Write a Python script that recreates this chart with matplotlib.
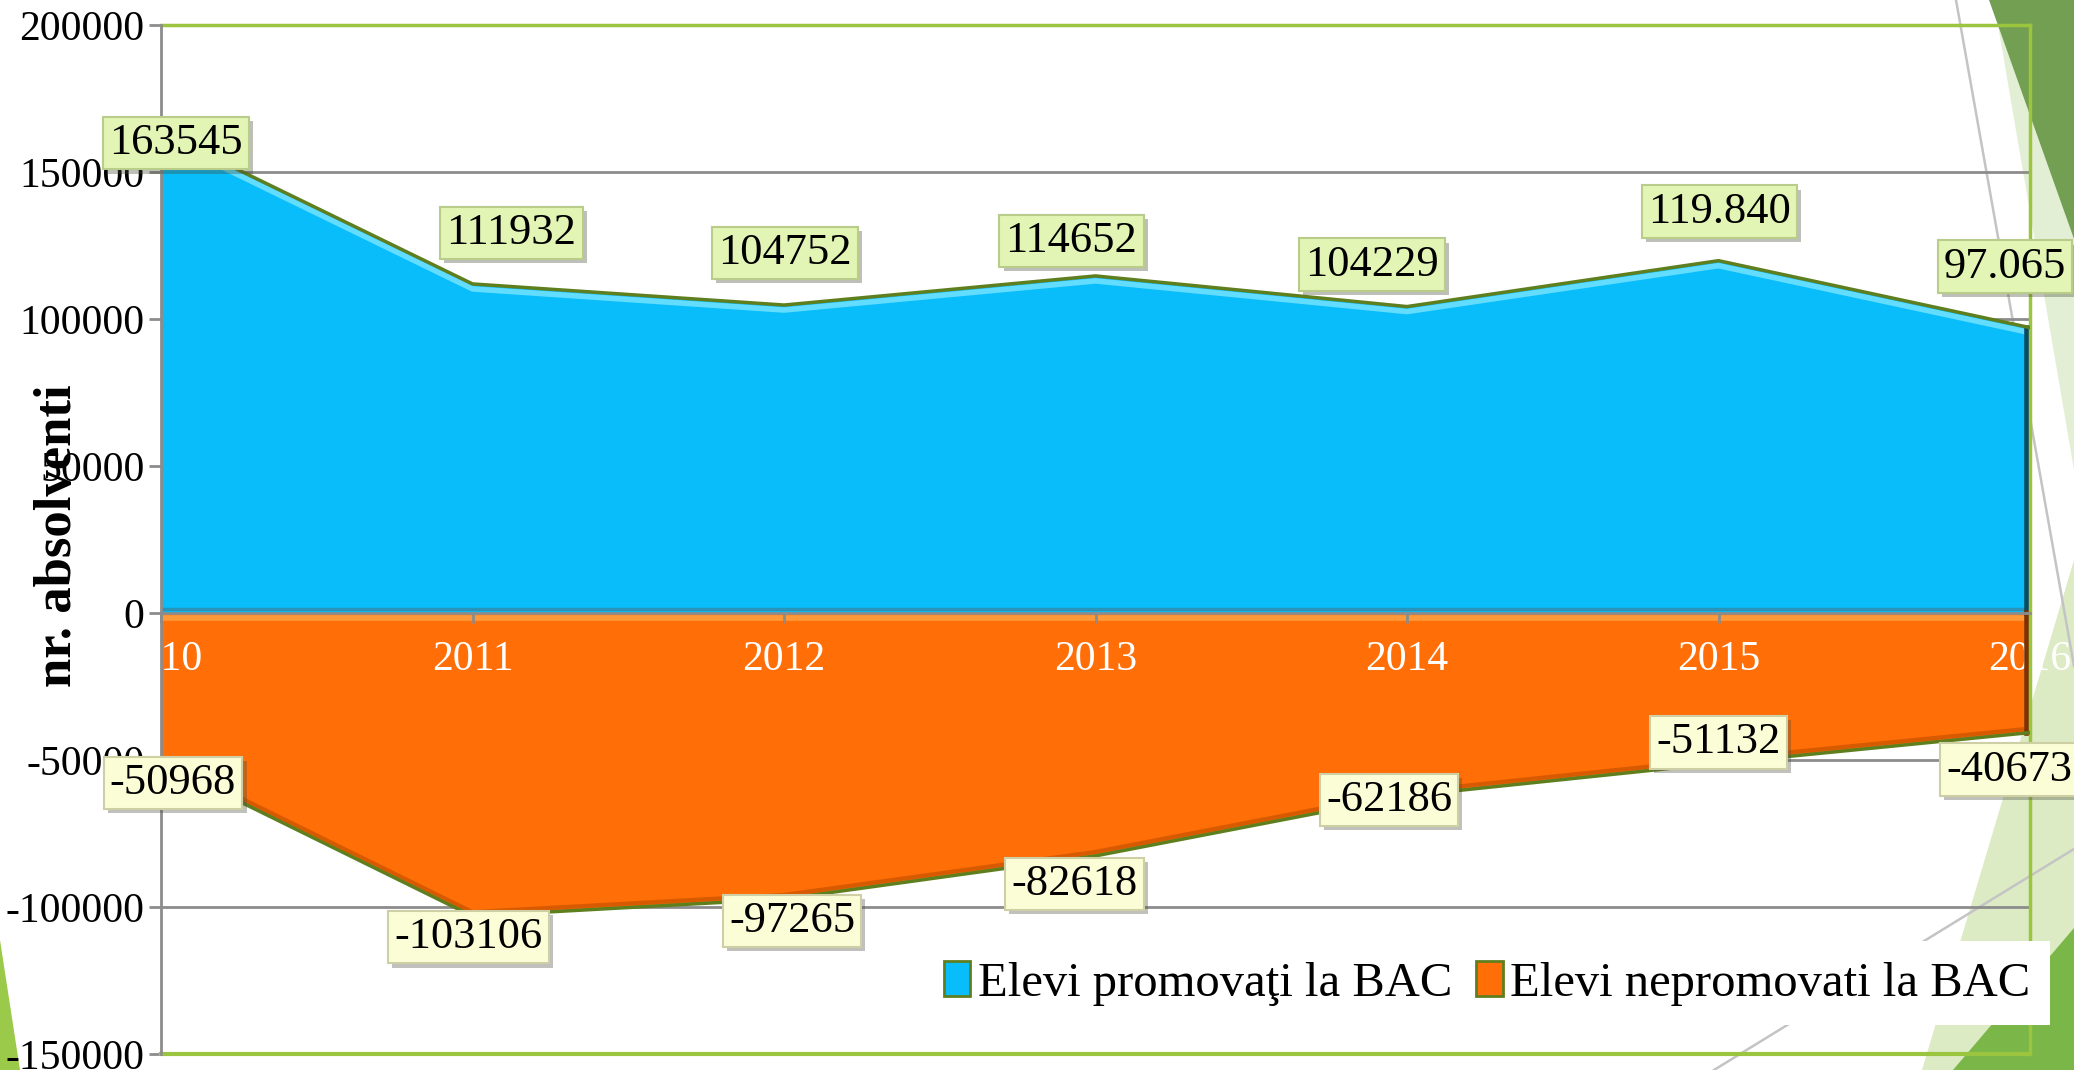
import matplotlib
matplotlib.use("Agg")
import matplotlib.pyplot as plt
from matplotlib.patches import Polygon, Patch
from matplotlib.lines import Line2D
from matplotlib.transforms import offset_copy
import matplotlib.patheffects as pe

plt.rcParams['font.family'] = ['Liberation Serif', 'DejaVu Serif']

# data
years = [2010, 2011, 2012, 2013, 2014, 2015, 2016]
promovati = [163545, 111932, 104752, 114652, 104229, 119840, 97065]
nepromovati = [-50968, -103106, -97265, -82618, -62186, -51132, -40673]
lbl_prom = ['163545', '111932', '104752', '114652', '104229', '119.840', '97.065']
lbl_neprom = ['-50968', '-103106', '-97265', '-82618', '-62186', '-51132', '-40673']
yticks = [-150000, -100000, -50000, 0, 50000, 100000, 150000, 200000]
legend_names = ['Elevi promovaţi la BAC', 'Elevi nepromovati la BAC']

# label offsets in pixels (dragged labels in the original)
off_prom = [(15, -11), (39, 51), (1, 52), (-24, 35), (-35, 42), (1, 49), (-25, 61)]
off_neprom = [(12, -20), (-4, -21), (8, -22), (-21, -28), (-18, -4), (0, 21), (-21, -37)]

blue = '#08bdfa'
orange = '#ff6e07'
olive = '#5f7f1f'
frame_green = '#9bc43f'

W, H = 2074, 1070
fig = plt.figure(figsize=(W / 100, H / 100), dpi=100)


def fpoly(pts, color):
    p = Polygon([(x / W, 1 - y / H) for x, y in pts], closed=True, transform=fig.transFigure,
                facecolor=color, edgecolor='none', zorder=-5)
    fig.patches.append(p)


def fline(p0, p1):
    l = Line2D([p0[0] / W, p1[0] / W], [1 - p0[1] / H, 1 - p1[1] / H], transform=fig.transFigure,
               color='#c4c4c4', lw=1.8, zorder=-4)
    fig.lines.append(l)


# background theme decorations
fpoly([(1998, 25), (2074, 239), (2074, 470)], '#e2efd5')
fpoly([(1989, 0), (2074, 0), (2074, 239)], '#739f52')
fpoly([(2074, 560), (1922, 1070), (2074, 1070)], '#dcebc4')
fpoly([(2074, 928), (1953, 1070), (2074, 1070)], '#7ab648')
fpoly([(0, 940), (20, 1070), (0, 1070)], '#9bc94a')
fline((1956, 0), (2074, 666))
fline((2074, 849), (1714, 1070))

ax = fig.add_axes([161 / W, 1 - 1054 / H, (2030 - 161) / W, (1054 - 25) / H])
ax.set_facecolor('none')
ax.set_xlim(2010, 2016)
ax.set_ylim(-150000, 200000)

# gridlines behind the areas
for t in yticks[1:-1]:
    if t != 0:
        ax.axhline(t, color='#8c8c8c', lw=2, zorder=0.5)

ax.fill_between(years, 0, promovati, color=blue, lw=0, zorder=1)
ax.fill_between(years, 0, nepromovati, color=orange, lw=0, zorder=1)

# bevel-ish highlights
tr_dn = offset_copy(ax.transData, fig=fig, x=0, y=-5, units='dots')
tr_up = offset_copy(ax.transData, fig=fig, x=0, y=4, units='dots')
ax.plot(years, promovati, color='#62dcff', lw=4, transform=tr_dn, zorder=1.5)
ax.plot(years, nepromovati, color='#d85a00', lw=3, transform=tr_up, zorder=1.5)
ax.plot([years[0], years[-1]], [0, 0], color='#2a93b8', lw=2.5, transform=tr_up, zorder=1.5)
ax.plot([years[0], years[-1]], [0, 0], color='#ff9a3a', lw=4, transform=tr_dn, zorder=1.5)
tr_l = offset_copy(ax.transData, fig=fig, x=-3, y=0, units='dots')
ax.plot([years[-1], years[-1]], [0, promovati[-1]], color='#0b4a60', lw=4, transform=tr_l, zorder=1.6)
ax.plot([years[-1], years[-1]], [0, nepromovati[-1]], color='#7a3300', lw=4, transform=tr_l, zorder=1.6)

ax.plot(years, promovati, color=olive, lw=2.5, zorder=3)
ax.plot(years, nepromovati, color=olive, lw=2.5, zorder=3)

# frame
ax.spines['bottom'].set_position(('data', 0))
ax.spines['bottom'].set_color('#8c8c8c')
ax.spines['bottom'].set_linewidth(2)
ax.spines['left'].set_color('#8c8c8c')
ax.spines['left'].set_linewidth(2)
ax.spines['top'].set_color(frame_green)
ax.spines['top'].set_linewidth(2.5)
ax.spines['right'].set_color(frame_green)
ax.spines['right'].set_linewidth(2.5)
ax.axhline(-150000, color=frame_green, lw=3, zorder=2.6, clip_on=False)
ax.spines['left'].set_zorder(2.7)

ax.set_yticks(yticks)
ax.set_yticklabels([str(t) for t in yticks])
ax.tick_params(axis='y', length=9, width=2, color='#8c8c8c', labelsize=30, pad=3)
ax.set_xticks(years)
ax.set_xticklabels([str(y) for y in years])
ax.tick_params(axis='x', length=7, width=2, color='#8c8c8c', labelsize=30, labelcolor='white', pad=13)

fig.text(58 / W, 1 - 536 / H, 'nr. absolventi', rotation=90, fontsize=38, fontweight='bold',
         ha='center', va='center')


def put_label(x, y, txt, off, fc, ec):
    a = ax.annotate(txt, (x, y), xytext=off, textcoords='offset pixels', ha='center', va='center',
                    fontsize=32, color='black', zorder=6, annotation_clip=False,
                    bbox=dict(boxstyle='square,pad=0.14', fc=fc, ec=ec, lw=1.5))
    a.get_bbox_patch().set_path_effects([pe.SimplePatchShadow(offset=(3, -3), alpha=0.35), pe.Normal()])


for x, y, t, o in zip(years, promovati, lbl_prom, off_prom):
    put_label(x, y, t, o, '#e3f5b5', '#b9cc8a')
for x, y, t, o in zip(years, nepromovati, lbl_neprom, off_neprom):
    put_label(x, y, t, o, '#fbfdd6', '#cfcfa6')

handles = [Patch(facecolor=blue, edgecolor=olive, lw=2), Patch(facecolor=orange, edgecolor=olive, lw=2)]
leg = ax.legend(handles, legend_names, loc='lower right', bbox_to_anchor=(2050 / W, 1 - 1025 / H),
                bbox_transform=fig.transFigure, ncol=2, fontsize=35, frameon=True, fancybox=False,
                edgecolor='none', facecolor='white', framealpha=1, handlelength=0.55, handleheight=0.75,
                handletextpad=0.15, columnspacing=0.5, borderpad=0.4, borderaxespad=0)
leg.set_zorder(10)

fig.savefig('out.png', dpi=100)
